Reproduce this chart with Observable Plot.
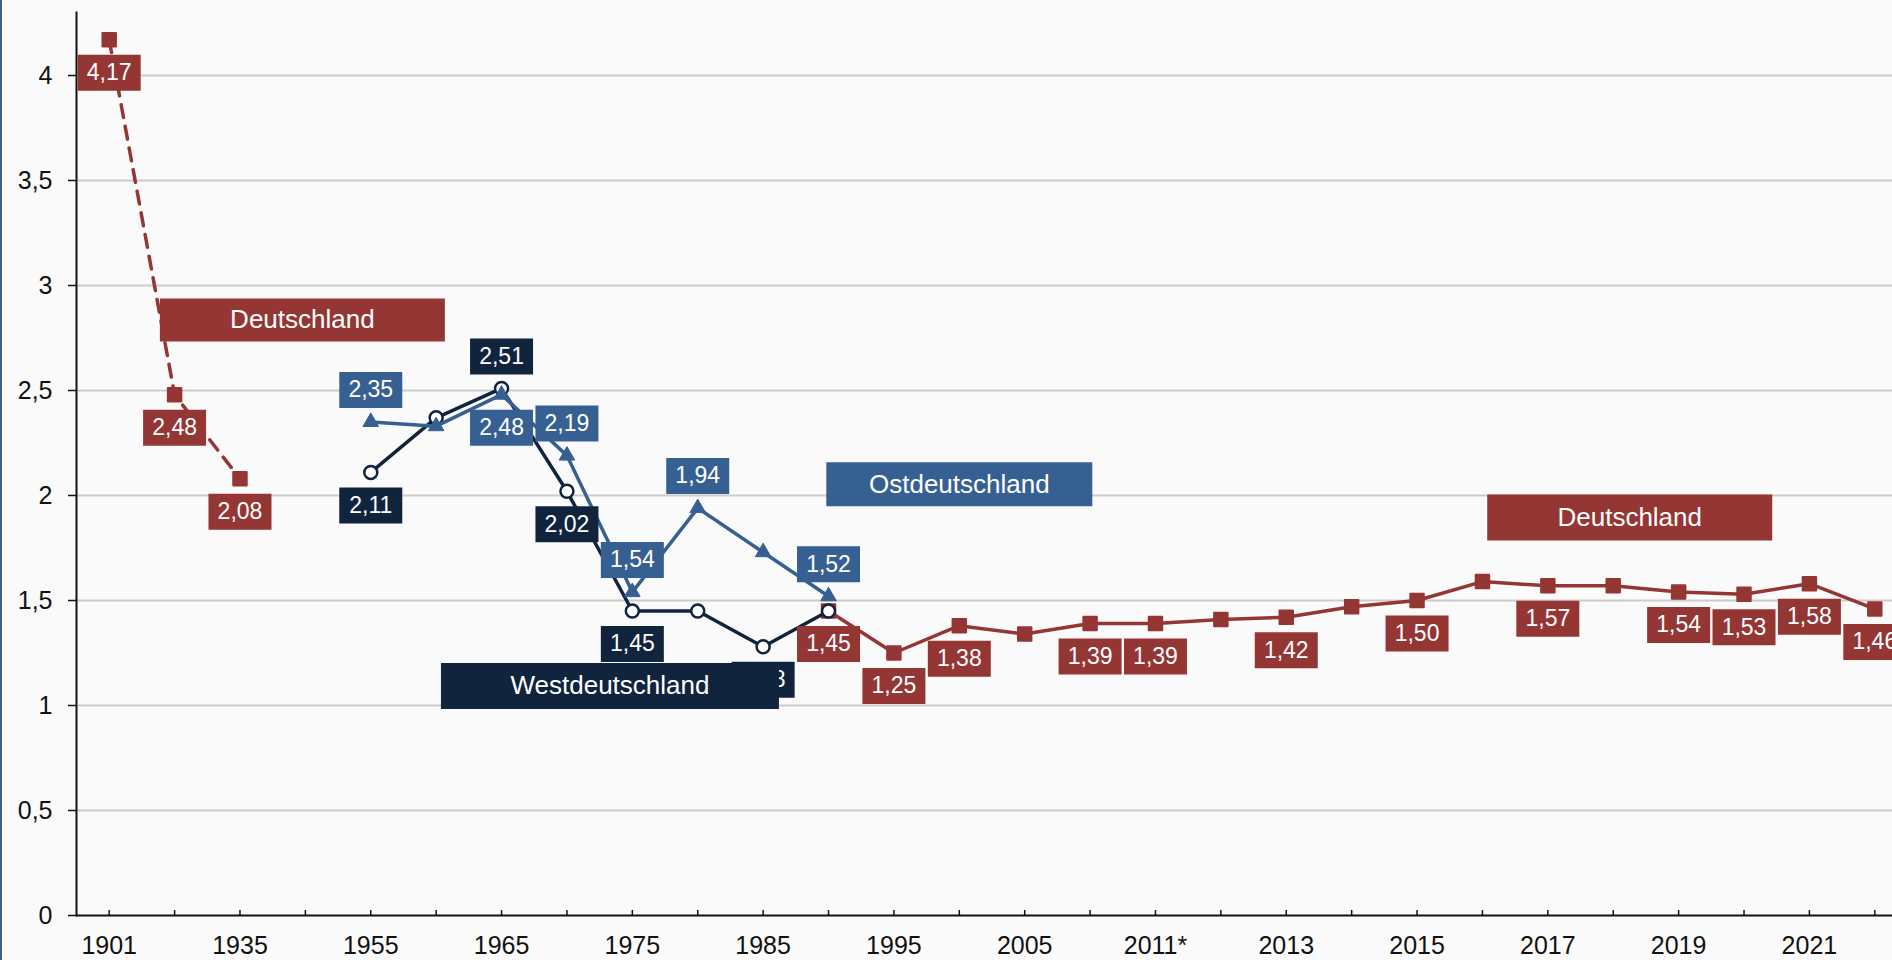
<!DOCTYPE html>
<html>
<head>
<meta charset="utf-8">
<script src="https://cdn.jsdelivr.net/npm/d3@7"></script>
<script src="https://cdn.jsdelivr.net/npm/@observablehq/plot@0.6"></script>
<style>
  html, body { margin: 0; padding: 0; background: #fafafa; overflow: hidden; }
  #chart { position: absolute; left: 0; top: 0; width: 1892px; height: 960px; overflow: hidden; }
  #chart svg { overflow: hidden; }
  #edge { position: absolute; left: 0; top: 0; width: 2px; height: 960px; background: #3d5d8f; }
</style>
</head>
<body>
<div id="chart"></div>
<div id="edge"></div>
<script>
// ---- categories & tick labels ----
const years = ["1901","1925","1935","1945","1955","1960","1965","1970","1975","1980","1985","1990",
  "1995","2000","2005","2010","2011*","2012","2013","2014","2015","2016","2017","2018","2019","2020","2021","2022"];
const tickLabels = ["1901","1935","1955","1965","1975","1985","1995","2005","2011*","2013","2015","2017","2019","2021"];
const yTicks = [0, 0.5, 1, 1.5, 2, 2.5, 3, 3.5, 4];
const gridValues = [0.5, 1, 1.5, 2, 2.5, 3, 3.5, 4];

// ---- Deutschland (early, dashed) ----
const deEarlyYears = ["1901","1925","1935"];
const deEarlyValues = [4.17, 2.48, 2.08];
const deEarlyLabelsBelow = ["1901","1925","1935"];

// ---- Westdeutschland ----
const westYears = ["1955","1960","1965","1970","1975","1980","1985","1990"];
const westValues = [2.11, 2.37, 2.51, 2.02, 1.45, 1.45, 1.28, 1.45];
const westLabelsAbove = ["1965"];
const westLabelsBelow = ["1955","1970","1975","1985"];

// ---- Ostdeutschland ----
const ostYears = ["1955","1960","1965","1970","1975","1980","1985","1990"];
const ostValues = [2.35, 2.33, 2.48, 2.19, 1.54, 1.94, 1.73, 1.52];
const ostLabelsAbove = ["1955","1970","1975","1980","1990"];
const ostLabelsBelow = ["1965"];

// ---- Deutschland (since 1990) ----
const deYears = ["1990","1995","2000","2005","2010","2011*","2012","2013","2014","2015","2016","2017","2018","2019","2020","2021","2022"];
const deValues = [1.45, 1.25, 1.38, 1.34, 1.39, 1.39, 1.41, 1.42, 1.47, 1.50, 1.59, 1.57, 1.57, 1.54, 1.53, 1.58, 1.46];
const deLabelsBelow = ["1990","1995","2000","2010","2011*","2013","2015","2017","2019","2020","2021","2022"];

// ---- series names ----
const seriesNames = ["Deutschland", "Westdeutschland", "Ostdeutschland"];

const RED = "#943634", NAVY = "#10243e", BLUE = "#376092";
const FONT = "'Liberation Sans', Arial, 'DejaVu Sans', sans-serif";

const rows = (ys, vs) => ys.map((year, i) => ({year, value: vs[i]}));
const pick = (data, list) => data.filter(d => list.includes(d.year));
const fmt = v => v.toFixed(2).replace(".", ",");

const deEarly = rows(deEarlyYears, deEarlyValues);
const west = rows(westYears, westValues);
const ost = rows(ostYears, ostValues);
const de = rows(deYears, deValues);

const box = (w, h) => ({draw(ctx) { ctx.rect(-w / 2, -h / 2, w, h); }});
const labelBox = box(63, 36);

function labels(data, list, color, dy) {
  const d = pick(data, list);
  return [
    Plot.dot(d, {x: "year", y: "value", dy, symbol: labelBox, fill: color, stroke: "none"}),
    Plot.text(d, {x: "year", y: "value", dy, text: r => fmt(r.value), fill: "white", fontSize: 23})
  ];
}

function legend(name, year, value, dx, w, h, color) {
  const d = [{year, value, name}];
  return [
    Plot.dot(d, {x: "year", y: "value", dx, symbol: box(w, h), fill: color, stroke: "none"}),
    Plot.text(d, {x: "year", y: "value", dx, text: "name", fill: "white", fontSize: 26})
  ];
}

const below = 33, above = -32;

const chart = Plot.plot({
  width: 1892,
  height: 960,
  marginLeft: 76,
  marginRight: 0,
  marginTop: 12,
  marginBottom: 45,
  style: {background: "#fafafa", fontFamily: FONT, fontSize: "25px", color: "#111"},
  x: {type: "point", domain: years, range: [76, 1907], padding: 0.5, round: false},
  y: {domain: [0, 4.3]},
  marks: [
    Plot.ruleY(gridValues, {stroke: "#cccccc", strokeWidth: 2}),
    Plot.axisY({ticks: yTicks, tickSize: 8, tickPadding: 16, tickFormat: d => String(d).replace(".", ","),
      label: null, stroke: "#111", strokeWidth: 1.5, fill: "#111", fontSize: 25}),
    Plot.axisX({ticks: years, tickSize: -5, tickFormat: () => "", label: null, stroke: "#111", strokeWidth: 1.5}),
    Plot.axisX({ticks: tickLabels, tickSize: 0, tickPadding: 21, label: null, fill: "#111", fontSize: 25}),
    Plot.ruleY([0], {stroke: "#111", strokeWidth: 2}),
    Plot.frame({anchor: "left", stroke: "#111", strokeWidth: 2}),

    // Deutschland early (dashed)
    Plot.line(deEarly, {x: "year", y: "value", stroke: RED, strokeWidth: 3.5, strokeDasharray: "13,9"}),
    Plot.dot(deEarly, {x: "year", y: "value", symbol: "square", r: 7.6, fill: RED, stroke: RED, strokeWidth: 2, strokeLinejoin: "round"}),

    // Deutschland since 1990
    Plot.line(de, {x: "year", y: "value", stroke: RED, strokeWidth: 3.5}),
    Plot.dot(de, {x: "year", y: "value", symbol: "square", r: 7.6, fill: RED, stroke: RED, strokeWidth: 2, strokeLinejoin: "round"}),

    // Westdeutschland
    Plot.line(west, {x: "year", y: "value", stroke: NAVY, strokeWidth: 3.5}),
    Plot.dot(west, {x: "year", y: "value", r: 6.5, fill: "white", stroke: NAVY, strokeWidth: 2.5}),

    // Ostdeutschland
    Plot.line(ost, {x: "year", y: "value", stroke: BLUE, strokeWidth: 3.5}),
    Plot.dot(ost, {x: "year", y: "value", symbol: d3.symbolTriangle, r: 5.8, fill: BLUE, stroke: BLUE, strokeWidth: 1}),

    // value labels
    ...labels(deEarly, deEarlyLabelsBelow, RED, below),
    ...labels(de, deLabelsBelow, RED, below),
    ...labels(west, westLabelsBelow, NAVY, below),
    ...labels(west, westLabelsAbove, NAVY, above),
    ...labels(ost, ostLabelsBelow, BLUE, below),
    ...labels(ost, ostLabelsAbove, BLUE, above),

    // series annotations
    ...legend(seriesNames[0], "1945", 2.836, -3, 285, 43, RED),
    ...legend(seriesNames[1], "1970", 1.093, 43, 338, 46, NAVY),
    ...legend(seriesNames[2], "2000", 2.053, 0, 266, 44, BLUE),
    ...legend(seriesNames[0], "2018", 1.895, 16.5, 285, 46, RED)
  ]
});

document.getElementById("chart").appendChild(chart);
</script>
</body>
</html>
